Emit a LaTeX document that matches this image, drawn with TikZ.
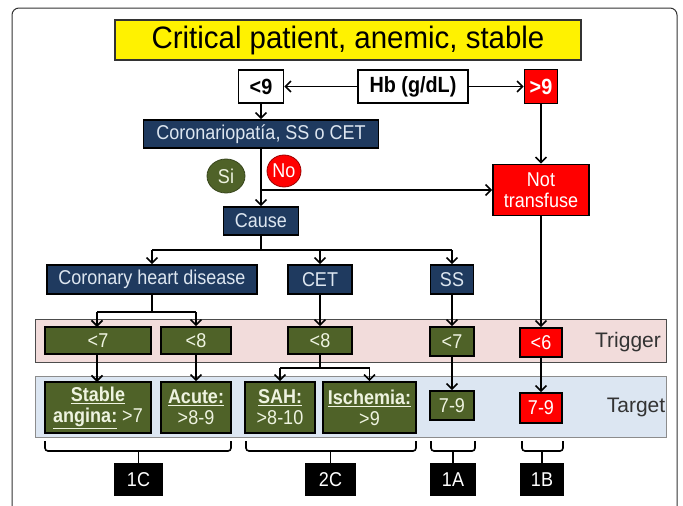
\documentclass[tikz,border=0pt]{standalone}
\usepackage{fontspec}
\setmainfont{Liberation Sans}
\newfontfamily\narrowfont[FakeStretch=0.9]{Liberation Sans}
\newfontfamily\titlefont[FakeStretch=0.95]{Liberation Sans}
\usetikzlibrary{arrows.meta,shapes.geometric}
\definecolor{navy}{HTML}{1F3A5F}
\definecolor{navytext}{HTML}{DDE6F0}
\definecolor{olivebox}{HTML}{4F6228}
\definecolor{olivetext}{HTML}{EEF3E0}
\definecolor{redbox}{HTML}{FF0000}
\definecolor{pinkband}{HTML}{F2DCDB}
\definecolor{blueband}{HTML}{DCE6F2}
\definecolor{bandtext}{HTML}{333333}
\begin{document}
\begin{tikzpicture}[x=1pt,y=-1pt,
  box/.style={draw=black, line width=1.6pt, inner sep=0pt, align=center,
    font=\narrowfont\fontsize{20}{21}\selectfont},
  navybox/.style={box, fill=navy, text=navytext},
  greenbox/.style={box, fill=olivebox, text=olivetext},
  redbx/.style={box, fill=redbox, text=white},
  whitebox/.style={box, fill=white, text=black, font=\narrowfont\fontsize{22}{24}\selectfont\bfseries},
  blackbox/.style={box, fill=black, text=white},
  band/.style={draw=black!70, line width=0.9pt, inner sep=0pt},
  bandlabel/.style={text=bandtext, font=\fontsize{21}{23}\selectfont, inner sep=0pt},
  ln/.style={line width=1.6pt},
  arr/.style={line width=1.6pt, -{Straight Barb[length=5.5pt,width=11pt]}},
  brk/.style={line width=1.6pt, rounded corners=3pt}
]
\useasboundingbox (0,0) rectangle (683,506);
% outer frame
\draw[black!80, line width=1pt, rounded corners=7pt] (12,515) -- (12,8) -- (677,8) -- (677,515);

% title
\node[draw=black!80, line width=1.2pt, fill=yellow, minimum width=466, minimum height=40,
      inner sep=0pt, font=\titlefont\fontsize{31}{33}\selectfont] (title) at (348,40) {Critical patient, anemic, stable};

% top row
\node[whitebox, minimum width=45, minimum height=33] (lt9) at (261,86.5) {<9};
\node[whitebox, minimum width=110, minimum height=33] (hb) at (413,86.5) {Hb (g/dL)};
\node[redbx, minimum width=33, minimum height=34, font=\narrowfont\fontsize{22}{24}\selectfont\bfseries] (gt9) at (541,86.5) {>9};

\node[navybox, minimum width=235, minimum height=28] (coro) at (261,134) {Coronariopatía, SS o CET};
\node[ellipse, draw=olivebox!70!black, line width=0.8pt, fill=olivebox, text=olivetext,
      minimum width=38, minimum height=34, inner sep=0pt, font=\narrowfont\fontsize{20}{21}\selectfont] (si) at (226,176) {Si};
\node[ellipse, draw=red!60!black, line width=0.8pt, fill=redbox, text=white,
      minimum width=34, minimum height=32, inner sep=0pt, font=\narrowfont\fontsize{20}{21}\selectfont] (no) at (284,171) {No};
\node[redbx, minimum width=96, minimum height=51] (notr) at (541,190) {Not\\transfuse};
\node[navybox, minimum width=75, minimum height=28] (cause) at (261,221) {Cause};

\node[navybox, minimum width=210, minimum height=29] (chd) at (152,279.5) {Coronary heart disease};
\node[navybox, minimum width=64, minimum height=29] (cet) at (320,279.5) {CET};
\node[navybox, minimum width=43, minimum height=29] (ss) at (452,279.5) {SS};

% bands
\node[band, fill=pinkband, minimum width=631, minimum height=43] (trigband) at (350.5,340.5) {};
\node[band, fill=blueband, draw=black!45, minimum width=631, minimum height=61] (targband) at (350.5,406.5) {};
\node[bandlabel] (trig) at (628,342) {Trigger};
\node[bandlabel] (targ) at (636,407) {Target};

% trigger boxes
\node[greenbox, minimum width=106, minimum height=27] (t1) at (98,340.5) {<7};
\node[greenbox, minimum width=70, minimum height=27] (t2) at (196,340.5) {<8};
\node[greenbox, minimum width=64, minimum height=27] (t3) at (320,340.5) {<8};
\node[greenbox, minimum width=44, minimum height=29] (t4) at (452,341.5) {<7};
\node[redbx, minimum width=42, minimum height=29] (t5) at (541,342.5) {<6};

% target boxes
\node[greenbox, minimum width=106, minimum height=51] (g1) at (98,407.5)
  {\textbf{\underline{Stable}}\\\textbf{\underline{angina:}} >7};
\node[greenbox, minimum width=70, minimum height=51] (g2) at (196,407.5)
  {\textbf{\underline{Acute:}}\\>8-9};
\node[greenbox, minimum width=70, minimum height=51] (g3) at (280,407.5)
  {\textbf{\underline{SAH:}}\\>8-10};
\node[greenbox, minimum width=93, minimum height=51] (g4) at (369.5,407.5)
  {\textbf{\underline{Ischemia:}}\\>9};
\node[greenbox, minimum width=44, minimum height=29] (g5) at (452,405.5) {7-9};
\node[redbx, minimum width=42, minimum height=30] (g6) at (541,408) {7-9};

% grade boxes
\node[blackbox, minimum width=47, minimum height=31] (r1) at (138.5,479.5) {1C};
\node[blackbox, minimum width=49, minimum height=31] (r2) at (330.5,479.5) {2C};
\node[blackbox, minimum width=44, minimum height=31] (r3) at (453,479.5) {1A};
\node[blackbox, minimum width=43, minimum height=31] (r4) at (542,479.5) {1B};

% connectors
\draw[arr] (hb) -- (lt9);
\draw[arr] (hb) -- (gt9);
\draw[arr] (lt9) -- (coro);
\draw[arr] (coro) -- (cause);
\draw[arr] (coro.south |- notr.west) -- (notr);
\draw[arr] (gt9) -- (notr);
\draw[arr] (notr) -- (t5);
\draw[arr] (t5) -- (g6);

\coordinate (cb) at (261,250);
\draw[ln] (cause) -- (cb);
\draw[ln] (cb -| chd) -- (cb -| ss);
\draw[arr] (cb -| chd) -- (chd);
\draw[arr] (cb -| cet) -- (cet);
\draw[arr] (cb -| ss) -- (ss);

\coordinate (hb1) at (152,312);
\draw[ln] (chd) -- (hb1);
\draw[ln] (97,312) -- (196,312);
\draw[arr] (97,312) -- (97,327);
\draw[arr] (hb1 -| t2) -- (t2);
\draw[arr] (cet) -- (t3);
\draw[arr] (ss) -- (t4);

\draw[arr] (97,354) -- (97,382);
\draw[arr] (t2) -- (g2);
\coordinate (hb2) at (320,368);
\draw[ln] (t3) -- (hb2);
\draw[ln] (hb2 -| g3) -- (hb2 -| g4);
\draw[arr] (hb2 -| g3) -- (g3);
\draw[arr] (hb2 -| g4) -- (g4);
\draw[arr] (t4) -- (g5);

% brackets
\draw[brk] (45,441) |- (231,451) -- (231,441);
\draw[ln] (138.5,451) -- (r1.north);
\draw[brk] (246,441) |- (416,451) -- (416,441);
\draw[ln] (330.5,451) -- (r2.north);
\draw[brk] (431,441) |- (475,451) -- (475,441);
\draw[ln] (453,451) -- (r3.north);
\draw[brk] (522,441) |- (563,451) -- (563,441);
\draw[ln] (542,451) -- (r4.north);
\end{tikzpicture}
\end{document}
